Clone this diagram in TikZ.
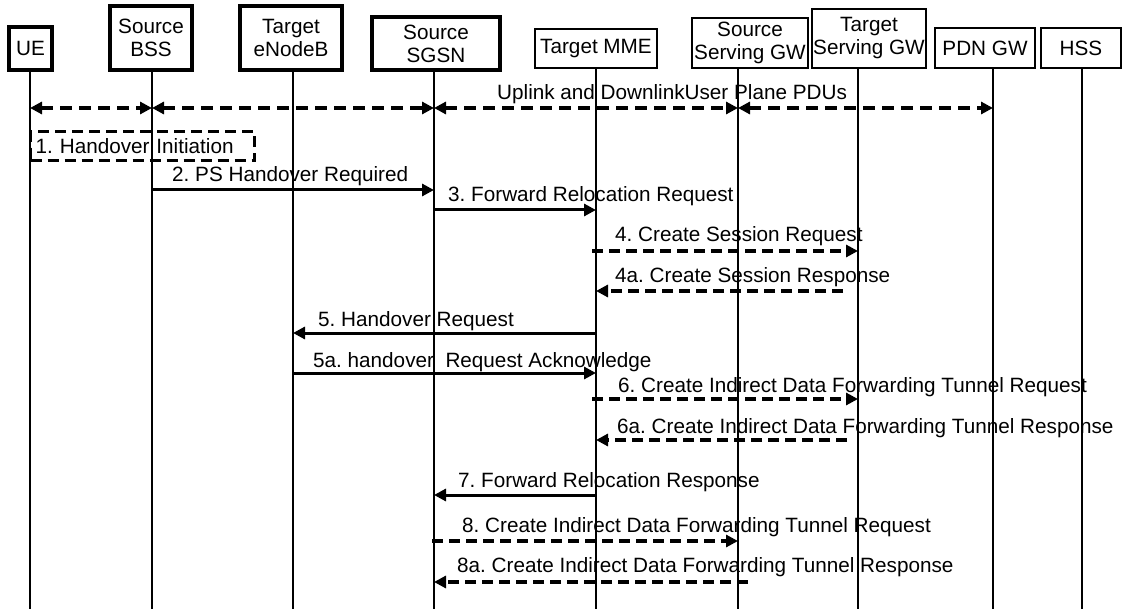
\documentclass[tikz,border=0pt]{standalone}
\usepackage{fontspec}
\setmainfont{Liberation Sans}
\usetikzlibrary{arrows.meta}
\frenchspacing
\begin{document}
\begin{tikzpicture}[x=1pt,y=-1pt,
  every node/.style={font=\fontsize{20.7}{23}\selectfont, inner sep=0pt},
  thickbox/.style={draw, line width=3.2pt, align=center},
  thinbox/.style={draw, line width=1.6pt, align=center},
  life/.style={line width=1.5pt},
  msg/.style={line width=3pt, -{Triangle[length=12pt,width=12pt]}},
  dmsg/.style={msg, line width=3.3pt, dash pattern=on 11pt off 6pt},
  both/.style={line width=3.5pt, dash pattern=on 12pt off 7pt,
    {Triangle[length=12pt,width=12pt]}-{Triangle[length=12pt,width=12pt]}},
  hobox/.style={draw, line width=3.3pt, dash pattern=on 11pt off 6pt, align=left},
  lbl/.style={anchor=base west}]
\useasboundingbox (0,0) rectangle (1123,609);

% lifeline tops and bottom
\coordinate (tue)   at (30,70);
\coordinate (tbss)  at (152,70);
\coordinate (tenb)  at (293,70);
\coordinate (tsgsn) at (434,70);
\coordinate (tmme)  at (596,68);
\coordinate (tssgw) at (738,68);
\coordinate (ttsgw) at (858,68);
\coordinate (tpdn)  at (993,68);
\coordinate (thss)  at (1082,68);
\coordinate (bot)   at (0,609);

\foreach \c in {tue,tbss,tenb,tsgsn,tmme,tssgw,ttsgw,tpdn,thss}
  \draw[life] (\c) -- (\c |- bot);

% header boxes
\node[thickbox, minimum width=43pt, minimum height=43pt] (ue) at (30.5,48.5) {UE};
\node[thickbox, minimum width=82pt, minimum height=64pt] (bss) at (151,38) {Source\\BSS};
\node[thickbox, minimum width=102pt, minimum height=64pt] (enb) at (291,38) {Target\\eNodeB};
\node[thickbox, minimum width=128pt, minimum height=53pt] (sgsn) at (436,43.5) {Source\\SGSN};
\node[thinbox, minimum width=122pt, minimum height=39pt] (mme) at (596,48.5) {Target MME};
\node[thinbox, minimum width=116pt, minimum height=50pt] (ssgw) at (750,43) {Source\\Serving GW};
\node[thinbox, minimum width=114pt, minimum height=59pt] (tsgw) at (869,38.5) {Target\\Serving GW};
\node[thinbox, minimum width=100pt, minimum height=40pt] (pdn) at (985,48) {PDN GW};
\node[thinbox, minimum width=80pt, minimum height=40pt] (hss) at (1081,48) {HSS};

% message rows
\coordinate (r0)  at (0,108);
\coordinate (r2)  at (0,190);
\coordinate (r3)  at (0,210);
\coordinate (r4)  at (0,251);
\coordinate (r4a) at (0,291);
\coordinate (r5)  at (0,333);
\coordinate (r5a) at (0,373);
\coordinate (r6)  at (0,399);
\coordinate (r6a) at (0,440);
\coordinate (r7)  at (0,495);
\coordinate (r8)  at (0,541);
\coordinate (r8a) at (0,582);

% user plane
\draw[both] (tue |- r0) -- (tbss |- r0);
\draw[both] (tbss |- r0) -- (tsgsn |- r0);
\draw[both] (tsgsn |- r0) -- (tssgw |- r0);
\draw[both] (tssgw |- r0) -- (tpdn |- r0);
\node[lbl] (l0) at (497,100) {Uplink and DownlinkUser Plane PDUs};

% 1
\node[hobox, anchor=north west, minimum width=224pt, minimum height=29pt,
      text width=214pt, inner xsep=5pt] (hoi) at (29,130) {1. Handover Initiation};

% 2
\draw[msg] (tbss |- r2) -- (tsgsn |- r2);
\node[lbl] (l2) at (172,182) {2. PS Handover Required};
% 3
\draw[msg] (tsgsn |- r3) -- (tmme |- r3);
\node[lbl] (l3) at (448,202) {3. Forward Relocation Request};
% 4
\draw[dmsg] ([xshift=-4pt]tmme |- r4) -- (ttsgw |- r4);
\node[lbl] (l4) at (615,242) {4. Create Session Request};
% 4a
\draw[dmsg] ([xshift=-15pt]ttsgw |- r4a) -- (tmme |- r4a);
\node[lbl] (l4a) at (615,283) {4a. Create Session Response};
% 5
\draw[msg] (tmme |- r5) -- (tenb |- r5);
\node[lbl] (l5) at (318,326) {5. Handover Request};
% 5a
\draw[msg] (tenb |- r5a) -- (tmme |- r5a);
\node[lbl] (l5a) at (313,367) {5a. handover\ \ Request Acknowledge};
% 6
\draw[dmsg] ([xshift=-4pt]tmme |- r6) -- (ttsgw |- r6);
\node[lbl] (l6) at (618,392) {6. Create Indirect Data Forwarding Tunnel Request};
% 6a
\draw[dmsg] ([xshift=-11pt]ttsgw |- r6a) -- (tmme |- r6a);
\node[lbl] (l6a) at (617,433) {6a. Create Indirect Data Forwarding Tunnel Response};
% 7
\draw[msg] (tmme |- r7) -- (tsgsn |- r7);
\node[lbl] (l7) at (458,487) {7. Forward Relocation Response};
% 8
\draw[dmsg] ([xshift=-2pt]tsgsn |- r8) -- (tssgw |- r8);
\node[lbl] (l8) at (462,532) {8. Create Indirect Data Forwarding Tunnel Request};
% 8a
\draw[dmsg] ([xshift=10pt]tssgw |- r8a) -- (tsgsn |- r8a);
\node[lbl] (l8a) at (457,572) {8a. Create Indirect Data Forwarding Tunnel Response};
\end{tikzpicture}
\end{document}
